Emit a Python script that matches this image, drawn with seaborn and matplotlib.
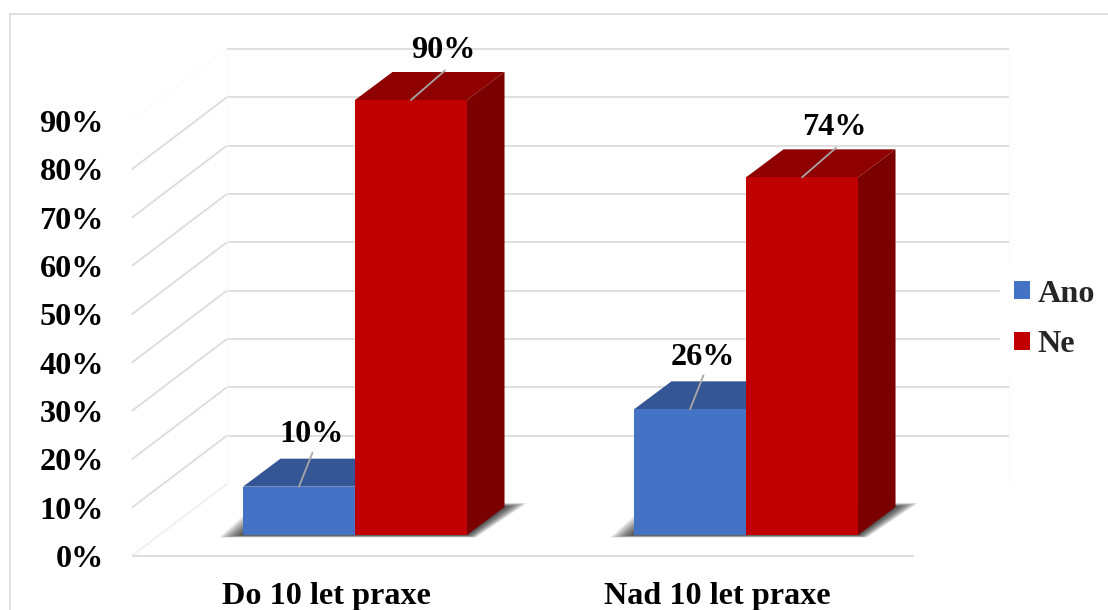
import matplotlib
matplotlib.use("Agg")
import matplotlib.pyplot as plt
from matplotlib.lines import Line2D
from matplotlib.transforms import Affine2D
import numpy as np
import pandas as pd
import seaborn as sns

categories = ["Do 10 let praxe", "Nad 10 let praxe"]
series_names = ["Ano", "Ne"]
ano_values = [10, 26]
ne_values = [90, 74]
axis_ticks = [0, 10, 20, 30, 40, 50, 60, 70, 80, 90]
axis_labels = ["0%", "10%", "20%", "30%", "40%", "50%", "60%", "70%", "80%", "90%"]

FRONT = {"Ano": "#4472C4", "Ne": "#C00000"}
TOP = {"Ano": "#355695", "Ne": "#8F0000"}
SIDE = {"Ano": "#2B4678", "Ne": "#7B0000"}
GRID = "#DCDCDC"
FONT_SIZE = 23.2

W, H, DPI = 1108, 610, 100
sns.set_theme(style="white")
plt.rcParams["font.family"] = ["Liberation Serif", "DejaVu Serif"]
plt.rcParams["font.weight"] = "bold"
plt.rcParams["axes.labelweight"] = "bold"

fig = plt.figure(figsize=(W / DPI, H / DPI), dpi=DPI, facecolor="white")
# The axes box is the plane of the bar fronts; the floor and walls extend from it.
ax_left, ax_width, ax_bottom, ax_height = 159.5, 782.0, 75.0, 435.0
ax = fig.add_axes([ax_left / W, ax_bottom / H, ax_width / W, ax_height / H])

frame = pd.DataFrame({
    "group": categories * 2,
    "answer": [series_names[0]] * 2 + [series_names[1]] * 2,
    "share": ano_values + ne_values,
})
sns.barplot(data=frame, x="group", y="share", hue="answer", order=categories,
            hue_order=series_names, palette=FRONT, saturation=1, width=0.573,
            gap=0, linewidth=0, ax=ax)
ax.set_xlim(-0.5, 1.5)
ax.set_ylim(0, 90)
ax.set_xlabel("")
ax.set_ylabel("")
ax.patch.set_alpha(0)
sns.despine(ax=ax, left=True, bottom=True)


def dx(pixels):
    return pixels * 2.0 / ax_width


def dy(pixels):
    return pixels * 90.0 / ax_height


# Projection of the floor: front edge, back wall and the depth of a bar, in pixels.
front_shift = (-27.7, -21.0)
back_shift = (67.3, 51.0)
bar_depth = (37.5, 28.0)

x_lo, x_hi = ax.get_xlim()


def wall_line(x0, y0, x1, y1, color=GRID, lw=1.3):
    ax.plot([x0, x1], [y0, y1], color=color, lw=lw, zorder=1, clip_on=False,
            solid_capstyle="butt")


# Back wall gridlines, and their continuation along the left wall.
for tick in axis_ticks:
    left_back = (x_lo + dx(back_shift[0]), tick + dy(back_shift[1]))
    left_front = (x_lo + dx(front_shift[0]), tick + dy(front_shift[1]))
    if tick > 0:
        wall_line(*left_back, x_hi + dx(back_shift[0]), left_back[1])
    shade = "#F0F0F0" if tick == 0 else ("#FCFCFC" if tick == 90 else GRID)
    wall_line(*left_front, *left_back, color=shade)

wall_line(x_lo + dx(front_shift[0]), dy(front_shift[1]),
          x_hi + dx(front_shift[0]), dy(front_shift[1]))
for edge in (x_lo, x_hi):
    wall_line(edge + dx(back_shift[0]), dy(back_shift[1]),
              edge + dx(back_shift[0]), 90 + dy(back_shift[1]), color="#F8F8F8", lw=0.6)

ano_bars, ne_bars = ax.containers[0], ax.containers[1]

# Soft cast shadow on the floor under each pair of bars.
for ano_bar, ne_bar in zip(ano_bars, ne_bars):
    x0 = ano_bar.get_x()
    x1 = ne_bar.get_x() + ne_bar.get_width()
    for t in np.linspace(1.0, 0.05, 20):
        ax.fill(
            [x0 - dx(24 * t), x1 + dx(9 * t), x1 + dx(bar_depth[0] + 23 * t),
             x0 + dx(bar_depth[0] - 24 * t)],
            [dy(-2.5 * t), dy(-2.5 * t), dy(bar_depth[1] + 4 * t), dy(bar_depth[1] + 4 * t)],
            color="black", alpha=0.05, lw=0, zorder=2, clip_on=False,
        )

# Top and side faces of the bars, extruded from the fronts drawn by seaborn.
for order, (name, bars) in enumerate(zip(series_names, (ano_bars, ne_bars))):
    for bar in bars:
        x0 = bar.get_x()
        x1 = x0 + bar.get_width()
        v = bar.get_height()
        ddx, ddy = dx(bar_depth[0]), dy(bar_depth[1])
        z = 3 + order
        ax.fill([x0, x1, x1 + ddx, x0 + ddx], [v, v, v + ddy, v + ddy],
                color=TOP[name], lw=0, zorder=z, clip_on=False)
        ax.fill([x1, x1 + ddx, x1 + ddx, x1], [0, ddy, v + ddy, v],
                color=SIDE[name], lw=0, zorder=z, clip_on=False)
        bar.set_zorder(z + 0.5)
        bar.set_clip_on(False)

# Value labels with their leader lines.
label_layout = {"Ano": ((13.5, 34.0), (13.0, 52.0)), "Ne": ((34.0, 29.5), (32.0, 49.5))}
for name, bars in zip(series_names, (ano_bars, ne_bars)):
    leader_end, text_pos = label_layout[name]
    for bar in bars:
        anchor = (bar.get_x() + bar.get_width() / 2, bar.get_height())
        ax.annotate("", xy=anchor, xytext=leader_end, textcoords="offset pixels",
                    arrowprops=dict(arrowstyle="-", color="#A6A6A6", lw=1.3,
                                    shrinkA=0, shrinkB=0), zorder=7,
                    annotation_clip=False)
        ax.annotate(f"{bar.get_height():.0f}%", xy=anchor, xytext=text_pos,
                    textcoords="offset pixels", ha="center", va="center",
                    fontsize=FONT_SIZE, fontweight="bold", color="black", zorder=8,
                    annotation_clip=False)

# Axis labels sit on the front edge of the floor rather than on the bar plane.
ax.set_yticks(axis_ticks, labels=axis_labels)
ax.set_xticks(range(len(categories)), labels=categories)
ax.tick_params(axis="y", length=0, pad=40, labelsize=FONT_SIZE, labelcolor="black")
ax.tick_params(axis="x", length=0, pad=34, labelsize=FONT_SIZE, labelcolor="black")
for label in ax.get_yticklabels():
    label.set_fontweight("bold")
    label.set_transform(label.get_transform() + Affine2D().translate(0, front_shift[1]))
for label in ax.get_xticklabels():
    label.set_fontweight("bold")
    label.set_transform(label.get_transform() + Affine2D().translate(front_shift[0] - 1.0, 0))

sns.move_legend(
    ax, "center left", bbox_to_anchor=(1000 / W, 1 - 319.5 / H),
    bbox_transform=fig.transFigure, title=None, frameon=True, fancybox=False,
    facecolor="white", edgecolor="none", framealpha=1, fontsize=FONT_SIZE,
    handlelength=0.5, handleheight=0.5, handletextpad=0.22, labelspacing=0.68,
    borderpad=0.44, borderaxespad=0,
)
legend = ax.get_legend()
legend.set_zorder(2.5)
for text in legend.get_texts():
    text.set_fontweight("bold")

# Thin chart border along the left and top edges.
for xs, ys in (([9.5, 9.5], [610, 14]), ([9.5, 1108], [14, 14])):
    fig.add_artist(Line2D([x / W for x in xs], [1 - y / H for y in ys], color=GRID,
                          lw=1.2, transform=fig.transFigure))

fig.savefig("out.png", dpi=DPI, facecolor="white")
